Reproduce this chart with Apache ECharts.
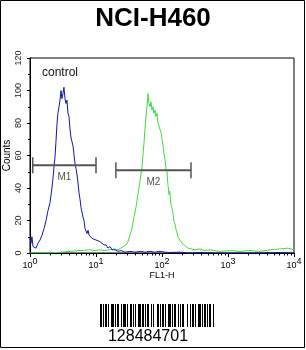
<!DOCTYPE html>
<html>
<head>
<meta charset="utf-8">
<script src="https://cdn.jsdelivr.net/npm/echarts@6/dist/echarts.min.js"></script>
<style>html,body{margin:0;padding:0;background:#fff}#c{width:306px;height:350px}</style>
</head>
<body>
<div id="c"></div>
<script>
// ---- data ----
var titleText = 'NCI-H460';
var sampleLabel = 'control';
var barcodeText = '128484701';
var xName = 'FL1-H';
var yName = 'Counts';
var xTicks = [1, 10, 100, 1000, 10000];
var yTicks = [0, 20, 40, 60, 80, 100, 120];

// control histogram: [FL1-H value, counts]
var controlHist = [
 [1.0,9],[1.035,6],[1.07,10],[1.11,4],[1.15,5],[1.23,3],[1.32,6],[1.42,8],[1.52,11],[1.63,15],
 [1.75,20],[1.87,26],[2.01,31],[2.15,40],[2.23,46],[2.31,53],[2.39,59],[2.47,68],[2.56,79],[2.65,86],
 [2.75,90],[2.85,94],[2.95,100],[3.05,95],[3.16,98],[3.27,102],[3.39,95],[3.51,92],[3.63,94],[3.76,86],
 [3.90,84],[4.04,76],[4.18,71],[4.33,72],[4.48,66],[4.64,65],[4.81,55],[4.98,52],[5.16,48],[5.34,43],
 [5.53,37],[5.73,33],[5.93,28],[6.14,25],[6.36,22],[6.59,20],[6.82,15],[7.06,16],[7.32,12],[7.58,14],
 [7.85,11],[8.13,12],[8.72,9],[9.34,10],[10.0,8],[10.7,9],[11.5,7],[12.3,6],[13.2,5],[14.2,5],
 [15.2,3],[16.3,4],[17.5,2],[19.4,2],[21.6,1],[23.9,1.5],[27.5,0.5],[32.7,1],[38.9,0.5],[46.4,1],
 [55.2,0.5],[65.8,1],[78.3,0.5],[93.3,1],[111,0.5],[131,0.3],[187,0.5],[265,0],[377,0.3],[755,0],
 [2150,0],[6150,0.3],[10000,0]
];
// sample histogram: [FL1-H value, counts]
var sampleHist = [
 [1.0,0],[2.01,0],[2.85,0.5],[4.04,1],[5.73,1.5],[8.13,2],[9.65,1.5],[11.5,2],[13.7,1.5],[16.3,2],
 [19.4,2.5],[21.6,2],[23.1,3],[24.8,3.5],[26.5,4],[28.5,5],[30.5,7],[32.7,11],[35.0,15],[37.6,22],
 [40.3,28],[43.2,36],[46.4,44],[49.8,53],[51.5,60],[53.4,68],[55.2,76],[57.2,84],[59.2,90],[61.3,98],
 [63.5,92],[65.8,90],[68.1,93],[70.5,88],[73.0,90],[75.6,86],[78.3,88],[81.1,84],[84.0,86],[86.9,80],
 [90.0,79],[93.3,76],[96.6,74],[100,70],[104,66],[107,61],[111,58],[115,52],[119,50],[123,42],
 [128,36],[131,38],[136,30],[141,28],[146,25],[151,20],[157,18],[162,15],[168,13],[174,10],
 [187,8],[201,6],[215,5],[231,4],[248,3],[265,3],[316,2],[377,2.5],[450,1.5],[534,2],
 [755,1],[1070,1.5],[1520,1],[2150,1.5],[3050,1],[4350,2],[6150,2.5],[8120,3],[10000,2]
];
// gates
var gateNames = ['M1', 'M2'];
var gateLo = [1.1, 20];
var gateHi = [10, 275];
var gateY = [54, 51];
// barcode module widths (bar, space, bar, space, ...)
var barcodeModules = [2,1,1,1,2,1,1,2,3,1,1,1,2,2,1,1,3,1,1,2,2,1,1,1,1,2,3,1,2,1,1,1,2,2,1,1,1,3,2,1,1,1,2,1,1,2,3,1,1,1,2,2,1,1,1,1,2,3,1,2,1,1,2,1,1,2,3,1,1,1,2,1,1,1,2,2,1,2];

var chart = echarts.init(document.getElementById('c'), null, {renderer: 'canvas'});

var series = [
  {type: 'line', name: 'sample', data: sampleHist, showSymbol: false, symbol: 'none',
   lineStyle: {color: '#3cdc3c', width: 1}, z: 3},
  {type: 'line', name: 'control', data: controlHist, showSymbol: false, symbol: 'none',
   lineStyle: {color: '#1414a8', width: 1}, z: 4}
];
gateNames.forEach(function (n, i) {
  series.push({
    type: 'line', data: [[gateLo[i], gateY[i]], [gateHi[i], gateY[i]]],
    symbol: 'rect', symbolSize: [1.5, 16], showSymbol: true,
    itemStyle: {color: '#555'}, lineStyle: {color: '#555', width: 2}, z: 5
  });
  series.push({
    type: 'scatter', data: [[Math.sqrt(gateLo[i] * gateHi[i]), gateY[i]]],
    symbolSize: 0, z: 6,
    label: {show: true, position: 'bottom', distance: 7, formatter: n,
      fontFamily: 'Liberation Sans', fontSize: 10, color: '#222'}
  });
});

// barcode graphic
var bcX0 = 100, bcY0 = 304, bcH = 23;
var graphics = [];
var cx = bcX0;
barcodeModules.forEach(function (w, i) {
  if (i % 2 === 0) {
    graphics.push({type: 'rect', shape: {x: cx, y: bcY0, width: w, height: bcH}, style: {fill: '#000'}});
  }
  cx += w;
});
graphics.push({type: 'text', x: 148, y: 329, style: {text: barcodeText, fontFamily: 'Liberation Sans',
  fontSize: 16, fill: '#000', align: 'center', verticalAlign: 'top'}});
graphics.push({type: 'text', x: 42, y: 73, style: {text: sampleLabel, fontFamily: 'Liberation Sans',
  fontSize: 12, fill: '#111', align: 'left', verticalAlign: 'middle'}});
graphics.push({type: 'rect', shape: {x: 0.5, y: 0.5, width: 304, height: 347},
  style: {fill: 'none', stroke: '#000', lineWidth: 1}, z: 100});

chart.setOption({
  animation: false,
  backgroundColor: '#fff',
  title: {text: titleText, left: 'center', top: 1,
    textStyle: {fontFamily: 'Liberation Sans', fontWeight: 'bold', fontSize: 26, color: '#000'}},
  grid: {left: 30, right: 12, top: 58, bottom: 97, show: true, borderColor: '#000', borderWidth: 1,
    containLabel: false, outerBoundsMode: 'none'},
  xAxis: {
    type: 'log', logBase: 10, min: xTicks[0], max: xTicks[xTicks.length - 1],
    name: xName, nameLocation: 'middle', nameGap: 18, nameMoveOverlap: false,
    nameTextStyle: {fontFamily: 'Liberation Sans', fontSize: 9, color: '#000'},
    axisLine: {show: true, lineStyle: {color: '#000', width: 1}},
    axisTick: {show: true, length: 4, lineStyle: {color: '#000'}},
    minorTick: {show: true, splitNumber: 9, length: 2.5, lineStyle: {color: '#000'}},
    splitLine: {show: false},
    axisLabel: {
      margin: 4, color: '#000',
      formatter: function (v) { return '{b|10}{s|' + Math.round(Math.log10(v)) + '}'; },
      rich: {
        b: {fontFamily: 'Liberation Sans', fontSize: 9, color: '#000', verticalAlign: 'bottom', padding: [4, 0, 0, 0]},
        s: {fontFamily: 'Liberation Sans', fontSize: 9, color: '#000', verticalAlign: 'top', padding: [0, 0, 4, 0]}
      }
    }
  },
  yAxis: {
    type: 'value', min: yTicks[0], max: yTicks[yTicks.length - 1], interval: 20,
    name: yName, nameLocation: 'middle', nameRotate: 90, nameGap: 18, nameMoveOverlap: false,
    nameTextStyle: {fontFamily: 'Liberation Sans', fontSize: 10, color: '#000'},
    axisLine: {show: true, lineStyle: {color: '#000', width: 1}},
    axisTick: {show: true, length: 3, lineStyle: {color: '#000'}},
    minorTick: {show: true, splitNumber: 2, length: 2, lineStyle: {color: '#000'}},
    splitLine: {show: false},
    axisLabel: {rotate: 90, margin: 7, fontFamily: 'Liberation Sans', fontSize: 9, color: '#222'}
  },
  graphic: graphics,
  series: series
});
</script>
</body>
</html>
